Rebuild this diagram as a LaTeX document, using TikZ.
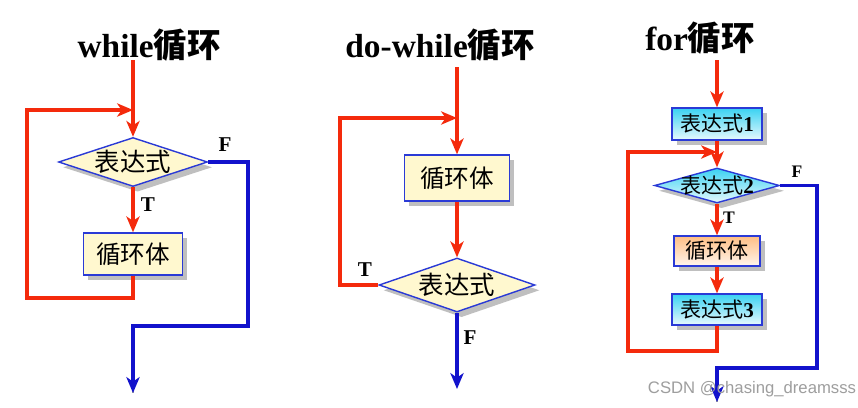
\documentclass[tikz,border=0pt]{standalone}
\usepackage{fontspec}
\setmainfont{Liberation Serif}
\setsansfont{Liberation Sans}
\newfontfamily\cjk{Noto Sans CJK SC}
\usetikzlibrary{arrows.meta,positioning,shapes.geometric,shadows}
\definecolor{LoopRed}{HTML}{F42A0C}
\definecolor{ExitBlue}{HTML}{1212CC}
\definecolor{Edge}{HTML}{2A3AD6}
\definecolor{Cream}{HTML}{FFF8CF}
\definecolor{Sky}{HTML}{3AD2F2}
\definecolor{Peach}{HTML}{FFBE84}
\definecolor{Shade}{HTML}{A4A4A4}
\tikzset{
  proc/.style={draw=Edge,line width=0.8pt,fill=Cream,inner sep=0pt,align=center,font=\cjk\fontsize{14}{16}\selectfont,text=black,drop shadow={shadow xshift=2.6pt,shadow yshift=-3pt,fill=Shade,opacity=0.7}},
  test/.style={diamond,draw=Edge,line width=0.8pt,fill=Cream,inner sep=0pt,drop shadow={shadow xshift=2.6pt,shadow yshift=-3pt,fill=Shade,opacity=0.7}},
  skyfill/.style={top color=Sky,bottom color=Sky!12!white},
  peachfill/.style={top color=Peach,bottom color=Peach!15!white},
  inside/.style={font=\cjk\fontsize{14.5}{16}\selectfont,text=black,inner sep=0pt},
  small/.style={font=\cjk\fontsize{12}{14}\selectfont},
  heading/.style={font=\bfseries\fontsize{19}{22}\selectfont,text=black},
  lab/.style={font=\bfseries\fontsize{12}{14}\selectfont,text=black,inner sep=0pt},
  wmark/.style={font=\sffamily\fontsize{9.5}{12}\selectfont,text=black!38,inner sep=0pt},
  redarr/.style={-{Stealth[length=9pt,width=7.5pt,inset=2.5pt]},draw=LoopRed,line width=2pt},
  bluearr/.style={-{Stealth[length=9pt,width=7.5pt,inset=2.5pt]},draw=ExitBlue,line width=1.8pt},
  lineshade/.style={draw=Shade,line width=1.4pt}
}

\begin{document}
\begin{tikzpicture}[x=0.02cm,y=-0.02cm]
  \useasboundingbox[fill=white] (0,0) rectangle (858,407);

  % while
  \node[heading] (t1) at (149,45) {while{\cjk 循环}};
  \coordinate (in1) at (133,60);
  \coordinate (j1) at (133,110);
  \node[test,minimum width=2.98cm,minimum height=0.98cm,label={[inside]center:表达式}] (d1) at (133,162) {};
  \node[proc,minimum width=1.98cm,minimum height=0.84cm] (b1) at (133,254) {循环体};
  \coordinate (lb1) at (27,298);
  \coordinate (r1) at (248,326);
  \coordinate (out1) at (133,393);
  \begin{scope}[lineshade,shift={(3,3)}]
    \draw (b1.south) |- (lb1) |- (j1);
    \draw (d1.east) -| (r1) -| (out1);
  \end{scope}
  \draw[redarr] (in1) -- (d1);
  \draw[redarr] (d1) -- (b1);
  \draw[redarr] (b1.south) |- (lb1) |- (j1);
  \draw[bluearr] (d1.east) -| (r1) -| (out1);
  \node[lab] (f1) at (225,145) {F};
  \node[lab] (s1) at (148,205) {T};

  % do-while
  \node[heading] (t2) at (440,45) {do-while{\cjk 循环}};
  \coordinate (in2) at (457,67);
  \coordinate (j2) at (457,118);
  \node[proc,minimum width=2.1cm,minimum height=0.92cm] (b2) at (457,178) {循环体};
  \node[test,minimum width=3.12cm,minimum height=1.08cm,label={[inside]center:表达式}] (d2) at (457,285) {};
  \coordinate (lb2) at (340,285);
  \coordinate (out2) at (457,389);
  \begin{scope}[lineshade,shift={(3,3)}]
    \draw (d2.west) -- (lb2) |- (j2);
  \end{scope}
  \draw[redarr] (in2) -- (b2);
  \draw[redarr] (b2) -- (d2);
  \draw[redarr] (d2.west) -- (lb2) |- (j2);
  \draw[bluearr] (d2) -- (out2);
  \node[lab] (s2) at (365,270) {T};
  \node[lab] (f2) at (470,338) {F};

  % for
  \node[heading] (t3) at (700,38) {for{\cjk 循环}};
  \coordinate (in3) at (717,60);
  \node[proc,skyfill,small,minimum width=1.8cm,minimum height=0.64cm] (e1) at (717,124) {表达式{\rmfamily\bfseries 1}};
  \coordinate (j3) at (717,152);
  \node[test,skyfill,minimum width=2.5cm,minimum height=0.7cm,label={[inside,small]center:表达式{\rmfamily\bfseries 2}}] (d3) at (717,185.5) {};
  \node[proc,peachfill,small,minimum width=1.72cm,minimum height=0.6cm] (b3) at (717,251) {循环体};
  \node[proc,skyfill,small,minimum width=1.8cm,minimum height=0.62cm] (e3) at (717,309.5) {表达式{\rmfamily\bfseries 3}};
  \coordinate (lb3) at (628,351);
  \coordinate (r3) at (817,368);
  \coordinate (out3) at (717,402);
  \begin{scope}[lineshade,shift={(3,3)}]
    \draw (e3.south) |- (lb3) |- (j3);
    \draw (d3.east) -| (r3) -| (out3);
  \end{scope}
  \draw[redarr] (in3) -- (e1);
  \draw[redarr] (e1) -- (d3);
  \draw[redarr] (d3) -- (b3);
  \draw[redarr] (b3) -- (e3);
  \draw[redarr] (e3.south) |- (lb3) |- (j3);
  \draw[bluearr] (d3.east) -| (r3) -| (out3);
  \node[lab,font=\bfseries\fontsize{10}{12}\selectfont] (f3) at (797,172) {F};
  \node[lab,font=\bfseries\fontsize{10}{12}\selectfont] (s3) at (729,218) {T};

  \node[wmark] (w) at (752,389) {CSDN @chasing\_dreamsss};
\end{tikzpicture}
\end{document}
